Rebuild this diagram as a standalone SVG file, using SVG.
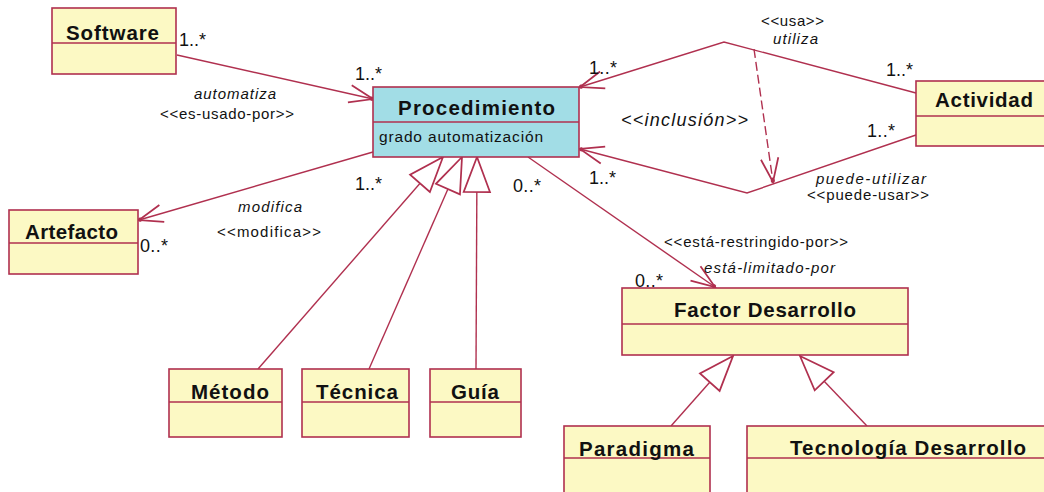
<svg xmlns="http://www.w3.org/2000/svg" width="1044" height="492" viewBox="0 0 1044 492">
  <style>
    .box { fill: #FCF9C4; stroke: #B0304F; stroke-width: 1.6; }
    .box.hl { fill: #A2DDE6; }
    .div { stroke: #B0304F; stroke-width: 1.6; }
    .cls { font-family: "Liberation Sans", Arial, sans-serif; font-weight: bold; font-size: 20.5px; fill: #111; }
    .attr { font-family: "Liberation Sans", Arial, sans-serif; font-size: 15.5px; fill: #111; }
    .lbl { font-family: "Liberation Sans", Arial, sans-serif; font-size: 15px; fill: #111; }
    .it { font-style: italic; }
    .mul { font-family: "Liberation Sans", Arial, sans-serif; font-size: 18px; fill: #111; }
    .ln { fill: none; stroke: #B0304F; stroke-width: 1.4; }
    .assoc { marker-end: url(#open); }
    .gen { marker-end: url(#tri); }
    .dep { stroke-dasharray: 9 4; marker-end: url(#open); }
  </style>
  <defs>
    <!-- open navigability arrowhead -->
    <marker id="open" markerUnits="userSpaceOnUse" orient="auto" markerWidth="30" markerHeight="30" refX="0" refY="0" viewBox="-22 -11 24 22" overflow="visible">
      <path d="M-19,-7 L0,0 L-19,7" fill="none" stroke="#B0304F" stroke-width="1.4"/>
      <circle cx="-1" cy="0" r="1.7" fill="#B0304F"/>
    </marker>
    <!-- hollow generalization triangle -->
    <marker id="tri" markerUnits="userSpaceOnUse" orient="auto" markerWidth="40" markerHeight="40" refX="0" refY="0" viewBox="-30 -13 32 26" overflow="visible">
      <path d="M0,0 L-28,-10.5 L-28,10.5 Z" fill="#fff" stroke="#B0304F" stroke-width="1.4"/>
    </marker>
  </defs>

  <rect width="1044" height="492" fill="#fff"/>

  <!-- connectors -->
  <g id="connectors">
    <path class="ln assoc" d="M177,55 L373,99"/>
    <path class="ln assoc" d="M373,152 L139,220"/>
    <path class="ln assoc" d="M916,93 L724,42 L580,87"/>
    <path class="ln assoc" d="M916,135 L747,193 L580,149"/>
    <path class="ln dep" d="M754,49 L773,182"/>
    <path class="ln assoc" d="M528,157 L715,287"/>
    <path class="ln gen" d="M258,369 L443,157"/>
    <path class="ln gen" d="M369,369 L462,157"/>
    <path class="ln gen" d="M476,369 L477,157"/>
    <path class="ln gen" d="M671,426 L733,356"/>
    <path class="ln gen" d="M867,426 L800,356"/>

    <!-- multiplicities -->
    <text class="mul" x="179" y="46" textLength="27">1..*</text>
    <text class="mul" x="355" y="80" textLength="27">1..*</text>
    <text class="mul" x="355" y="190" textLength="27">1..*</text>
    <text class="mul" x="140" y="252" textLength="28">0..*</text>
    <text class="mul" x="513" y="192" textLength="28">0..*</text>
    <text class="mul" x="589" y="184" textLength="27">1..*</text>
    <text class="mul" x="589" y="74" textLength="28">1..*</text>
    <text class="mul" x="886" y="76" textLength="27">1..*</text>
    <text class="mul" x="867" y="137" textLength="28">1..*</text>
    <text class="mul" x="635" y="287" textLength="28">0..*</text>

    <!-- association labels -->
    <text class="lbl it" x="194" y="99" textLength="82">automatiza</text>
    <text class="lbl" x="160" y="119" textLength="134">&lt;&lt;es-usado-por&gt;&gt;</text>
    <text class="lbl it" x="238" y="212" textLength="64">modifica</text>
    <text class="lbl" x="217" y="237" textLength="104">&lt;&lt;modifica&gt;&gt;</text>
    <text class="lbl" x="761" y="26" textLength="63">&lt;&lt;usa&gt;&gt;</text>
    <text class="lbl it" x="773" y="44" textLength="45">utiliza</text>
    <text class="lbl it" x="621" y="126" textLength="127" style="font-size:18px">&lt;&lt;inclusión&gt;&gt;</text>
    <text class="lbl it" x="816" y="184" textLength="110">puede-utilizar</text>
    <text class="lbl" x="807" y="200" textLength="122">&lt;&lt;puede-usar&gt;&gt;</text>
    <text class="lbl" x="664" y="247" textLength="184">&lt;&lt;está-restringido-por&gt;&gt;</text>
    <text class="lbl it" x="704" y="273" textLength="131">está-limitado-por</text>
  </g>

  <!-- classes -->
  <g id="software">
    <rect class="box" x="52" y="8" width="124" height="66"/>
    <line class="div" x1="52" y1="43" x2="176" y2="43"/>
    <text class="cls" x="66" y="40" textLength="93">Software</text>
  </g>

  <g id="procedimiento">
    <rect class="box hl" x="373" y="87" width="206" height="70"/>
    <line class="div" x1="373" y1="122" x2="579" y2="122"/>
    <text class="cls" x="398" y="115" textLength="157">Procedimiento</text>
    <text class="attr" x="379" y="142" textLength="164">grado automatización</text>
  </g>

  <g id="actividad">
    <rect class="box" x="916" y="81" width="134" height="65"/>
    <line class="div" x1="916" y1="116" x2="1050" y2="116"/>
    <text class="cls" x="935" y="107" textLength="98">Actividad</text>
  </g>

  <g id="artefacto">
    <rect class="box" x="9" y="210" width="129" height="64"/>
    <line class="div" x1="9" y1="243" x2="138" y2="243"/>
    <text class="cls" x="25" y="239" textLength="93">Artefacto</text>
  </g>

  <g id="factor-desarrollo">
    <rect class="box" x="622" y="288" width="286" height="67"/>
    <line class="div" x1="622" y1="324" x2="908" y2="324"/>
    <text class="cls" x="674" y="317" textLength="182">Factor Desarrollo</text>
  </g>

  <g id="metodo">
    <rect class="box" x="169" y="369" width="113" height="68"/>
    <line class="div" x1="169" y1="402" x2="282" y2="402"/>
    <text class="cls" x="191" y="399" textLength="78">Método</text>
  </g>

  <g id="tecnica">
    <rect class="box" x="302" y="369" width="107" height="68"/>
    <line class="div" x1="302" y1="402" x2="409" y2="402"/>
    <text class="cls" x="316" y="399" textLength="82">Técnica</text>
  </g>

  <g id="guia">
    <rect class="box" x="430" y="369" width="91" height="68"/>
    <line class="div" x1="430" y1="402" x2="521" y2="402"/>
    <text class="cls" x="451" y="399" textLength="48">Guía</text>
  </g>

  <g id="paradigma">
    <rect class="box" x="564" y="426" width="146" height="80"/>
    <line class="div" x1="564" y1="458" x2="710" y2="458"/>
    <text class="cls" x="579" y="456" textLength="115">Paradigma</text>
  </g>

  <g id="tecnologia-desarrollo">
    <rect class="box" x="747" y="426" width="310" height="80"/>
    <line class="div" x1="747" y1="458" x2="1057" y2="458"/>
    <text class="cls" x="790" y="455" textLength="236">Tecnología Desarrollo</text>
  </g>
</svg>
